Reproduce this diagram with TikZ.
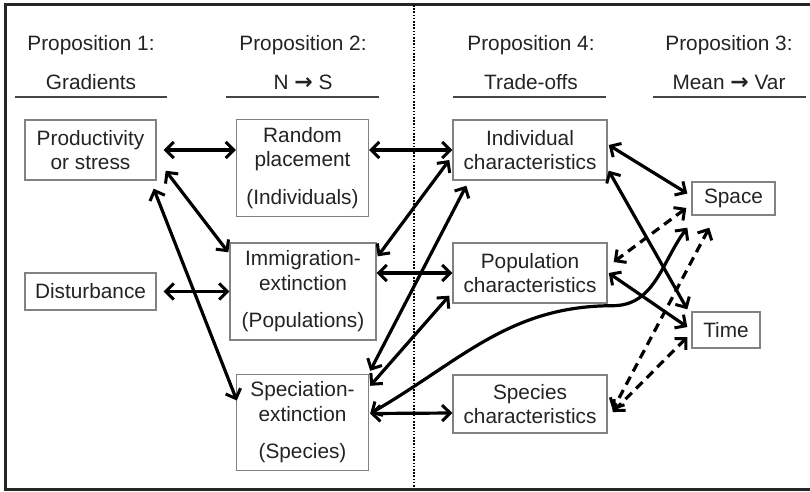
\documentclass[tikz,border=0pt]{standalone}
\usepackage{fontspec}
\setmainfont{Liberation Sans}
\newfontfamily\arrowfont{DejaVu Sans}
\usetikzlibrary{arrows.meta,calc}
\definecolor{boxgray}{RGB}{130,130,130}
\definecolor{textgray}{RGB}{35,35,35}
\definecolor{rulegray}{RGB}{70,70,70}
\newcommand{\goesto}{{\arrowfont\bfseries\fontsize{22}{22}\selectfont →}}

\begin{document}
\begin{tikzpicture}[x=1pt,y=1pt,
  every node/.style={font=\fontsize{20.8}{24.5}\selectfont,align=center,text=textgray},
  box/.style={draw=boxgray,line width=1.4pt,inner sep=0pt},
  link/.style={{Straight Barb[length=8pt,width=16pt,line width=3pt]}-{Straight Barb[length=8pt,width=16pt,line width=3pt]},line width=3.2pt},
  dlink/.style={link,dash pattern=on 9pt off 6pt}]
\clip (0,0) rectangle (810,-491);
\useasboundingbox (0,0) rectangle (810,-491);
% frame and divider
\draw[line width=3pt,black!85] (5,-4) rectangle (816,-489);
\draw[line width=2.4pt,dash pattern=on 1.6pt off 1.6pt] (414,-5) -- (414,-488);
% headers
\node (h1) at (91,-45) {Proposition 1:};
\node (g1) at (91,-82) {Gradients};
\node (h2) at (303,-45) {Proposition 2:};
\node (g2) at (303,-82) {N \goesto{} S};
\node (h4) at (531,-45) {Proposition 4:};
\node (g4) at (531,-82) {Trade-offs};
\node (h3) at (729,-45) {Proposition 3:};
\node (g3) at (729,-82) {Mean \goesto{} Var};
\foreach \a/\b in {15/167,226/379,453/606,653/806}
  \draw[rulegray,line width=2.4pt] (\a,-97) -- (\b,-97);
% boxes
\node[box,minimum width=131pt,minimum height=60pt] (prod) at (90.5,-150) {Productivity\\or stress};
\node[box,minimum width=131pt,minimum height=37pt] (dist) at (90.5,-291.5) {Disturbance};
\node[box,minimum width=132pt,minimum height=97pt] (rand) at (302.5,-168) {Random\\placement\\[13pt](Individuals)};
\node[box,minimum width=146pt,minimum height=97pt] (imm) at (303,-291.5) {Immigration-\\extinction\\[13pt](Populations)};
\node[box,minimum width=132pt,minimum height=96pt] (spec) at (302.5,-422.5) {Speciation-\\extinction\\[13pt](Species)};
\node[box,minimum width=154pt,minimum height=60pt] (indc) at (530,-150) {Individual\\characteristics};
\node[box,minimum width=154pt,minimum height=60pt] (popc) at (530,-273) {Population\\characteristics};
\node[box,minimum width=154pt,minimum height=58pt] (spcc) at (530,-404) {Species\\characteristics};
\node[box,minimum width=83pt,minimum height=33pt] (space) at (733.5,-198.5) {Space};
\node[box,minimum width=68pt,minimum height=36pt] (time) at (726,-330) {Time};
% left links
\draw[link] ($(prod.east)+(7,0)$) -- (prod.east -| rand.west);
\draw[link] ($(prod.south east)+(9,10)$) -- ($(imm.north west)+(-1,-10)$);
\draw[link] ($(prod.south east)+(-3,-8)$) -- ($(spec.west)+(1,22)$);
\draw[link] ($(dist.east)+(7,0)$) -- (imm.west);
% middle links
\draw[link] (rand.east |- indc.west) -- (indc.west);
\draw[link] ($(imm.north east)+(1,-14)$) -- ($(indc.west)+(-3,-10)$);
\draw[link] (imm.east |- popc.west) -- (popc.west);
\draw[link] ($(spec.north east)+(1,3)$) -- ($(indc.south west)+(14,-5)$);
\draw[link] ($(spec.north east)+(1,-12)$) -- ($(popc.south west)+(-3,8)$);
\draw[link] ($(spec.east)+(1,9)$) -- ($(spcc.west)+(0,-9)$);
\draw[link] ($(spec.east)+(1,9)$) to[out=30,in=180] ($(popc.south east)+(5,-2)$)
  to[out=0,in=233] ($(space.south west)+(-4,-12)$);
% right links
\draw[link] ($(indc.east)+(1,5)$) -- ($(space.west)+(-4,5)$);
\draw[link] ($(indc.south east)+(1,10)$) -- ($(time.north west)+(-4,2)$);
\draw[link] ($(popc.east)+(1,0)$) -- ($(time.west)+(-4,3)$);
\draw[dlink] ($(space.west)+(-5,-9.5)$) -- ($(popc.east)+(6,11)$);
\draw[dlink] ($(space.south west)+(18,-12)$) -- ($(spcc.east)+(5,-6)$);
\draw[dlink] ($(time.west)+(-4,-7)$) -- ($(spcc.east)+(5,-8)$);
\end{tikzpicture}
\end{document}
